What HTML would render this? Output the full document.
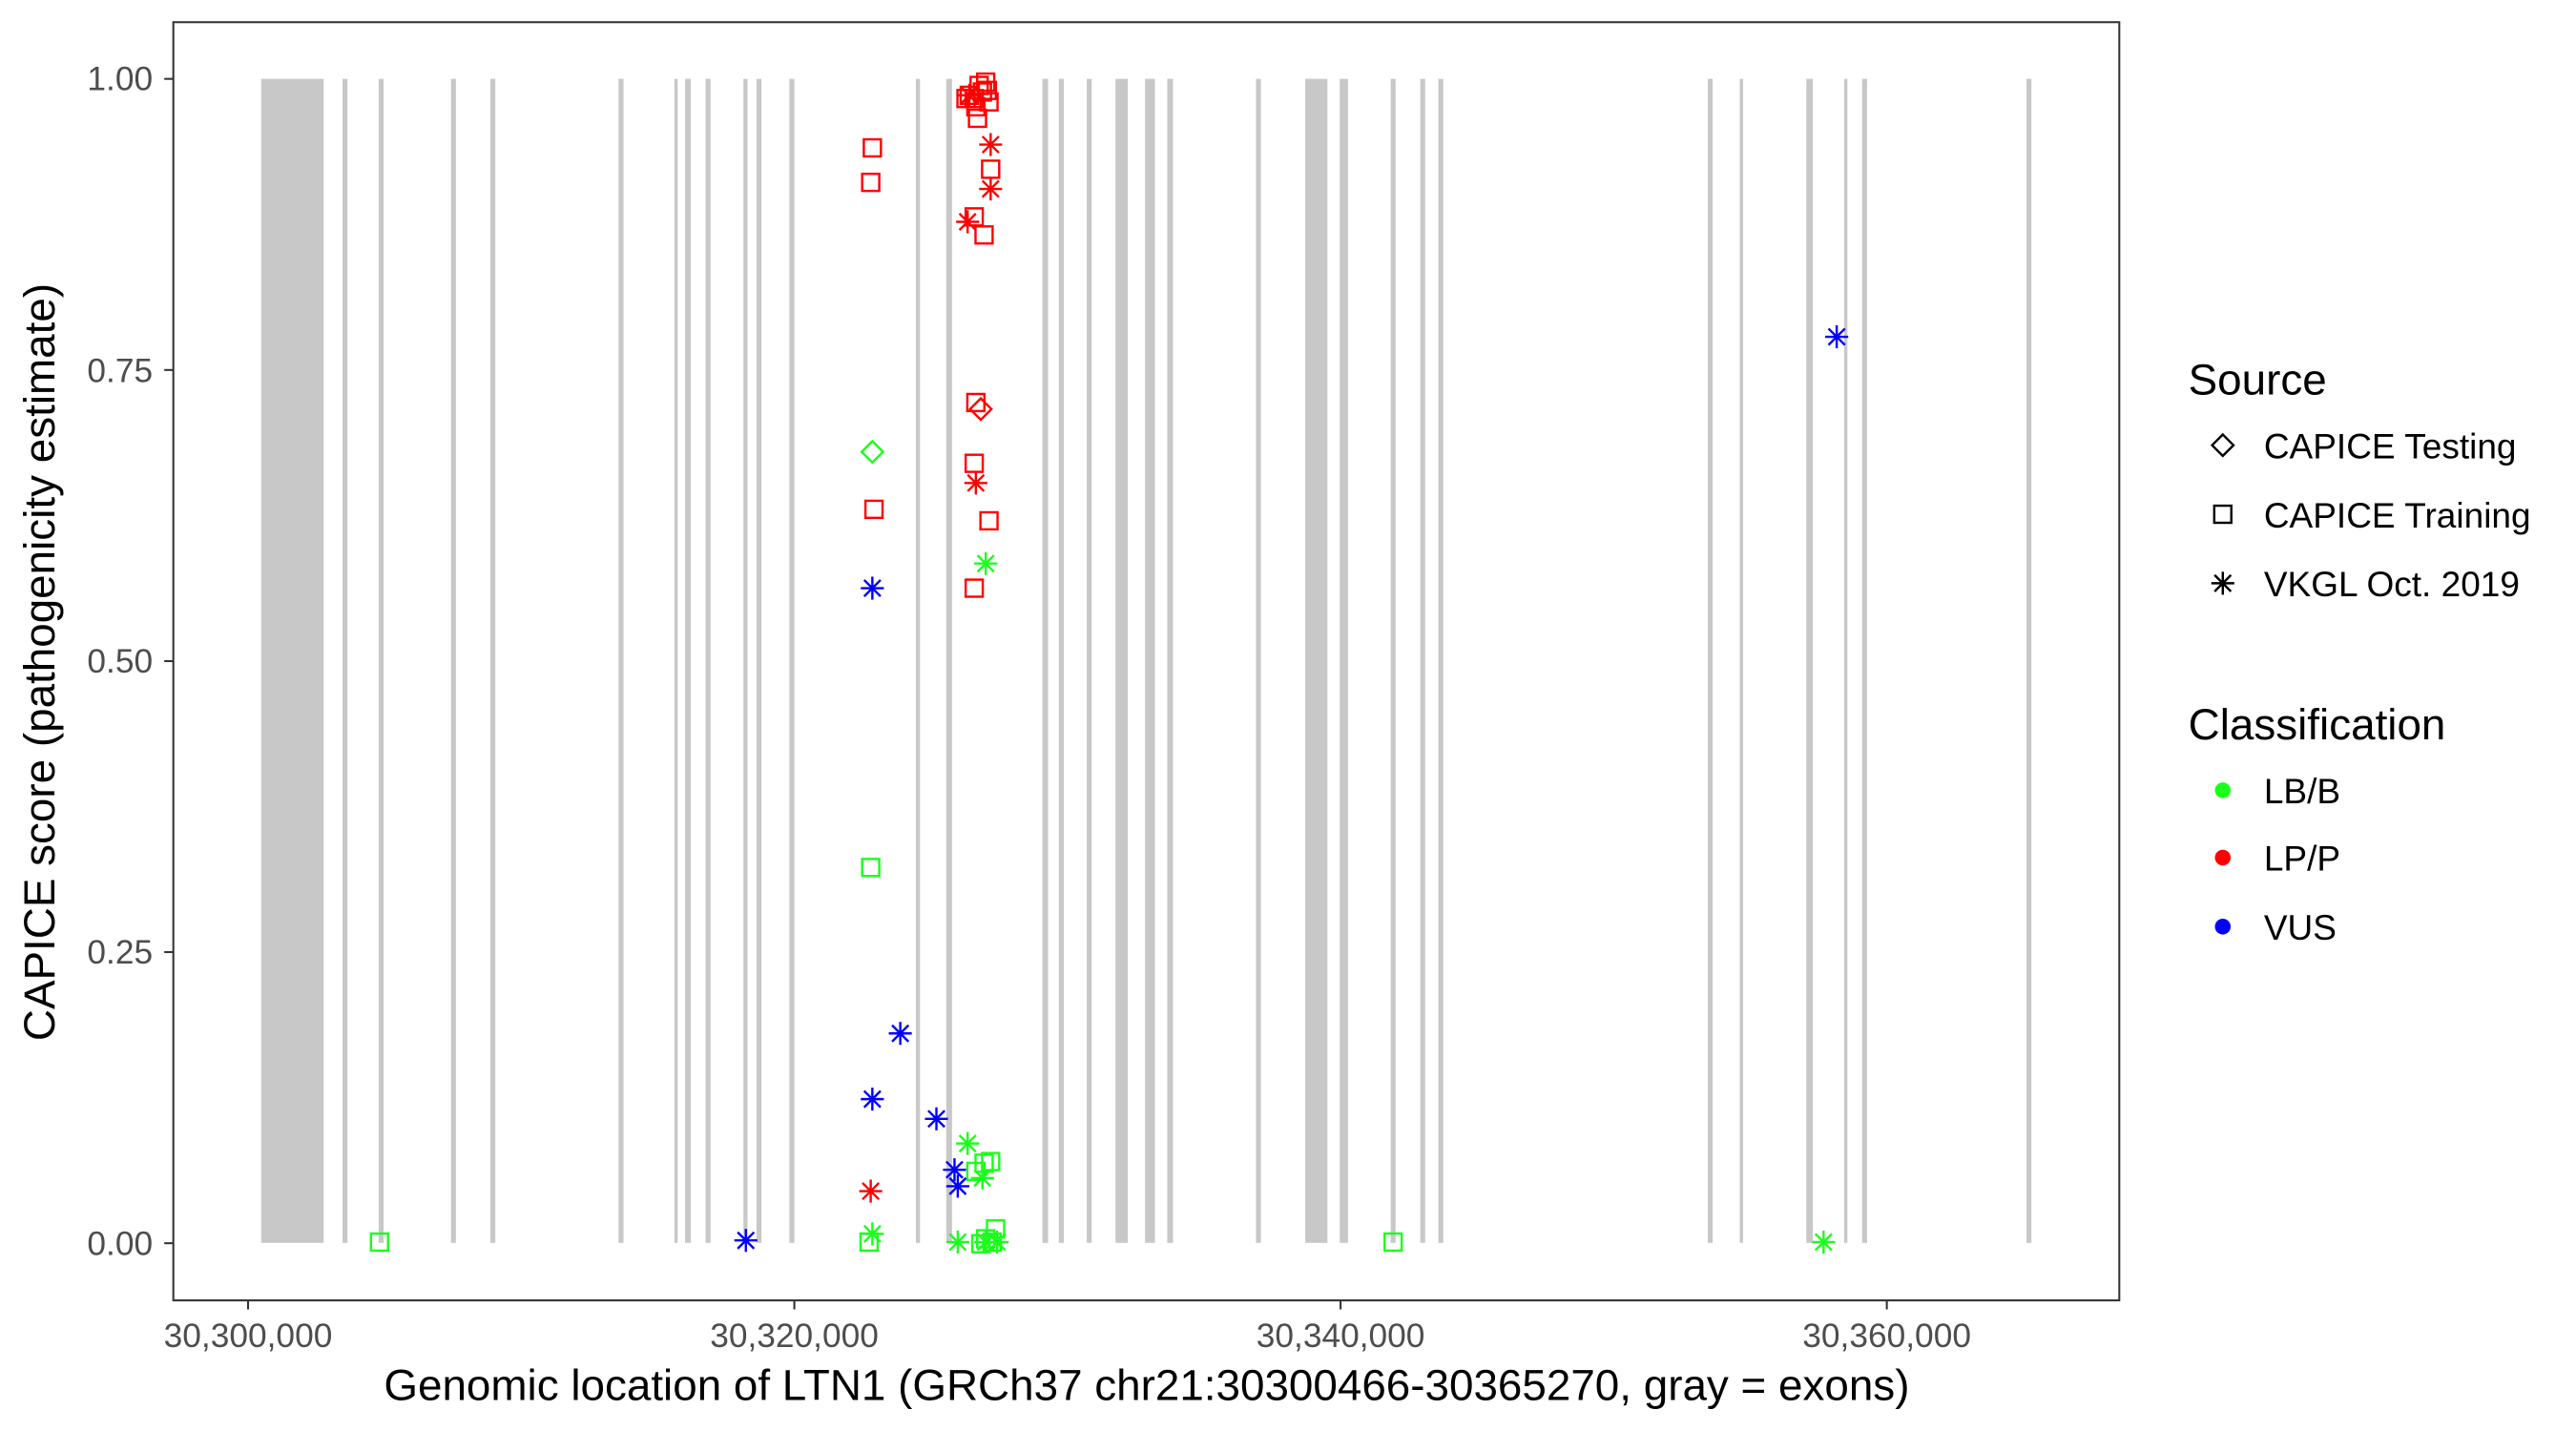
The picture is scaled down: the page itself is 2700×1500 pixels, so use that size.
<!DOCTYPE html>
<html><head><meta charset="utf-8"><style>
html,body{margin:0;padding:0;background:#fff;}
svg{display:block;}
text{font-family:"Liberation Sans",Arial,sans-serif;}
</style></head><body>
<svg width="2700" height="1500" viewBox="0 0 1568 871" preserveAspectRatio="none" xmlns="http://www.w3.org/2000/svg">
<defs>
<g id="sq"><rect x="-5.2" y="-5.2" width="10.4" height="10.4" fill="none" stroke-width="1.4"/></g>
<g id="di"><polygon points="0,-6.5 6.5,0 0,6.5 -6.5,0" fill="none" stroke-width="1.4"/></g>
<g id="as" stroke-width="1.4"><line x1="-7" y1="0" x2="7" y2="0"/><line x1="0" y1="-7" x2="0" y2="7"/><line x1="-5" y1="-5" x2="5" y2="5"/><line x1="-5" y1="5" x2="5" y2="-5"/></g>
</defs>
<rect x="0" y="0" width="1568" height="871" fill="#fff"/>
<g fill="#c8c8c8">
<rect x="159" y="48" width="38" height="708.5"/>
<rect x="208.5" y="48" width="3" height="708.5"/>
<rect x="230.5" y="48" width="3" height="708.5"/>
<rect x="274.5" y="48" width="3" height="708.5"/>
<rect x="298.5" y="48" width="3" height="708.5"/>
<rect x="376.5" y="48" width="3" height="708.5"/>
<rect x="410.5" y="48" width="2" height="708.5"/>
<rect x="417" y="48" width="3.5" height="708.5"/>
<rect x="429.5" y="48" width="3" height="708.5"/>
<rect x="452.5" y="48" width="2.5" height="708.5"/>
<rect x="460.5" y="48" width="3" height="708.5"/>
<rect x="480.5" y="48" width="3" height="708.5"/>
<rect x="557.5" y="48" width="2.5" height="708.5"/>
<rect x="576" y="48" width="3.5" height="708.5"/>
<rect x="634.5" y="48" width="3.5" height="708.5"/>
<rect x="644.5" y="48" width="3" height="708.5"/>
<rect x="661.5" y="48" width="3" height="708.5"/>
<rect x="679" y="48" width="7.5" height="708.5"/>
<rect x="697" y="48" width="6" height="708.5"/>
<rect x="710.5" y="48" width="3.5" height="708.5"/>
<rect x="764.5" y="48" width="3" height="708.5"/>
<rect x="794.5" y="48" width="13.5" height="708.5"/>
<rect x="815.5" y="48" width="5" height="708.5"/>
<rect x="846.5" y="48" width="3" height="708.5"/>
<rect x="864.5" y="48" width="3" height="708.5"/>
<rect x="875.5" y="48" width="3" height="708.5"/>
<rect x="1039.5" y="48" width="3" height="708.5"/>
<rect x="1059" y="48" width="2" height="708.5"/>
<rect x="1099.5" y="48" width="4" height="708.5"/>
<rect x="1122.5" y="48" width="2" height="708.5"/>
<rect x="1133.5" y="48" width="3" height="708.5"/>
<rect x="1233.5" y="48" width="3" height="708.5"/>
</g>
<rect x="105.5" y="13.5" width="1184.5" height="778" fill="none" stroke="#333" stroke-width="1.2"/>
<g stroke="#333" stroke-width="1.2">
<line x1="100" y1="48" x2="105.5" y2="48"/><line x1="100" y1="225.2" x2="105.5" y2="225.2"/>
<line x1="100" y1="402.4" x2="105.5" y2="402.4"/><line x1="100" y1="579.5" x2="105.5" y2="579.5"/>
<line x1="100" y1="756.7" x2="105.5" y2="756.7"/>
<line x1="151" y1="791.5" x2="151" y2="797"/><line x1="483.5" y1="791.5" x2="483.5" y2="797"/>
<line x1="816" y1="791.5" x2="816" y2="797"/><line x1="1148.5" y1="791.5" x2="1148.5" y2="797"/>
</g>
<g fill="#4d4d4d" font-size="20.5" text-anchor="end">
<text x="93" y="55">1.00</text><text x="93" y="232.5">0.75</text><text x="93" y="409.5">0.50</text>
<text x="93" y="586.5">0.25</text><text x="93" y="764">0.00</text>
</g>
<g fill="#4d4d4d" font-size="20.5" text-anchor="middle">
<text x="151" y="820">30,300,000</text><text x="483.5" y="820">30,320,000</text>
<text x="816" y="820">30,340,000</text><text x="1148.5" y="820">30,360,000</text>
</g>
<text x="698" y="852" font-size="26.6" text-anchor="middle" fill="#000">Genomic location of LTN1 (GRCh37 chr21:30300466-30365270, gray = exons)</text>
<text transform="translate(33,403) rotate(-90)" font-size="26.6" text-anchor="middle" fill="#000">CAPICE score (pathogenicity estimate)</text>
<g stroke="#ff0000">
<use href="#sq" x="590" y="58"/><use href="#sq" x="596" y="52"/><use href="#sq" x="600" y="50"/><use href="#sq" x="601" y="55"/>
<use href="#sq" x="594" y="65"/><use href="#sq" x="595" y="72"/><use href="#sq" x="602" y="62"/><use href="#sq" x="588" y="60"/>
<use href="#sq" x="598" y="56"/><use href="#sq" x="593" y="60"/>
<use href="#as" x="590" y="58"/>
<use href="#sq" x="531" y="90"/><use href="#sq" x="530" y="111"/><use href="#sq" x="532" y="310"/>
<use href="#sq" x="593" y="282"/><use href="#sq" x="602" y="317"/><use href="#sq" x="593" y="358"/>
<use href="#sq" x="599" y="143"/><use href="#sq" x="603" y="103"/><use href="#sq" x="593" y="132"/><use href="#sq" x="594" y="245"/>
<use href="#as" x="603" y="88"/><use href="#as" x="603" y="115"/><use href="#as" x="589" y="135"/>
<use href="#as" x="594" y="294"/><use href="#as" x="530" y="725"/>
<use href="#di" x="597" y="249"/>
</g>
<g stroke="#1aff1a">
<use href="#di" x="531" y="275"/>
<use href="#sq" x="530" y="528"/><use href="#sq" x="231" y="756"/><use href="#sq" x="529" y="756"/><use href="#sq" x="848" y="756"/>
<use href="#sq" x="599" y="708"/><use href="#sq" x="603" y="707"/><use href="#sq" x="594" y="713"/>
<use href="#sq" x="606" y="748"/><use href="#sq" x="600" y="754"/><use href="#sq" x="604" y="756"/><use href="#sq" x="597" y="757"/>
<use href="#as" x="600" y="343"/><use href="#as" x="589" y="696"/><use href="#as" x="598" y="717"/>
<use href="#as" x="531" y="751"/><use href="#as" x="583" y="756"/><use href="#as" x="600" y="756"/><use href="#as" x="607" y="756"/>
<use href="#as" x="1110" y="756"/>
</g>
<g stroke="#0000ff">
<use href="#as" x="1118" y="205"/><use href="#as" x="531" y="358"/><use href="#as" x="548" y="629"/>
<use href="#as" x="531" y="669"/><use href="#as" x="570" y="681"/><use href="#as" x="581" y="712"/>
<use href="#as" x="583" y="722"/><use href="#as" x="454" y="755"/>
</g>
<text x="1332" y="240" font-size="26.6" fill="#000">Source</text>
<g stroke="#000"><use href="#di" x="1353" y="271"/><use href="#sq" x="1353" y="313"/><use href="#as" x="1353" y="355"/></g>
<g font-size="21.5" fill="#000">
<text x="1378" y="279">CAPICE Testing</text><text x="1378" y="321">CAPICE Training</text><text x="1378" y="363">VKGL Oct. 2019</text>
</g>
<text x="1332" y="450" font-size="26.6" fill="#000">Classification</text>
<circle cx="1353" cy="481" r="4.8" fill="#1aff1a"/><circle cx="1353" cy="522" r="4.8" fill="#ff0000"/><circle cx="1353" cy="564" r="4.8" fill="#0000ff"/>
<g font-size="21.5" fill="#000">
<text x="1378" y="489">LB/B</text><text x="1378" y="530">LP/P</text><text x="1378" y="572">VUS</text>
</g>
</svg>
</body></html>
